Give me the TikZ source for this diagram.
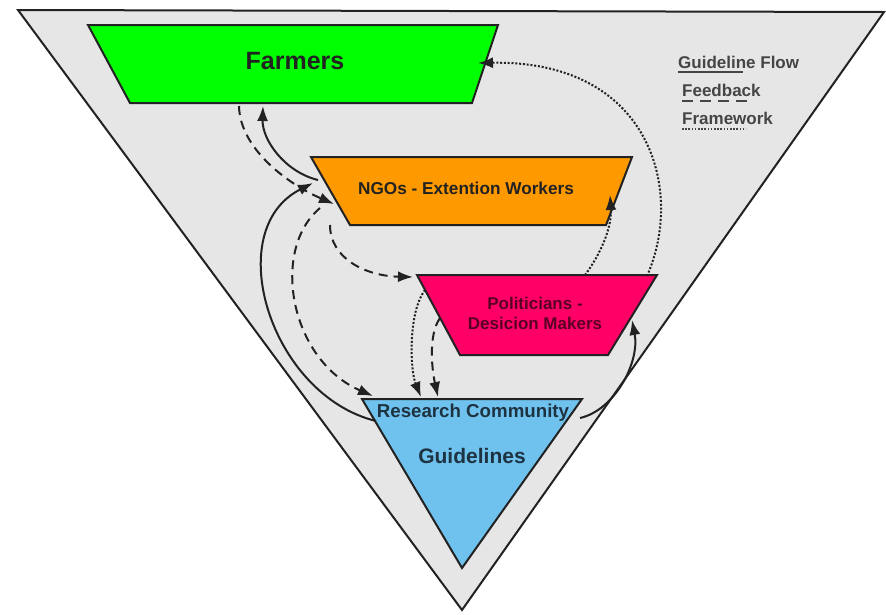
\documentclass[tikz,border=0pt]{standalone}
\usepackage{fontspec}
\setmainfont{Liberation Sans}
\usetikzlibrary{arrows.meta}
\definecolor{bggray}{HTML}{E6E6E6}
\definecolor{edge}{HTML}{222222}
\definecolor{farmgreen}{HTML}{00FF00}
\definecolor{ngoorange}{HTML}{FF9900}
\definecolor{polpink}{HTML}{FF0066}
\definecolor{resblue}{HTML}{70C2EE}
\definecolor{txtdark}{HTML}{222222}
\definecolor{poltxt}{HTML}{5A0025}
\definecolor{restxt}{HTML}{1E3342}
\definecolor{legtxt}{HTML}{454545}
\tikzset{
  shapebox/.style={draw=edge, line width=2pt, line join=miter},
  lbl/.style={font=\bfseries, text=txtdark, align=center, inner sep=0pt},
  conn/.style={line width=2pt, draw=edge, -{Latex[length=15pt,width=11pt]}},
  flow/.style={conn},
  feedback/.style={conn, dash pattern=on 9pt off 6pt},
  frame/.style={conn, dash pattern=on 2pt off 1.8pt},
  legend/.style={font=\bfseries\fontsize{17}{19}\selectfont, text=legtxt, anchor=west, inner sep=0pt}
}
\begin{document}
\begin{tikzpicture}[x=1pt,y=-1pt]
\useasboundingbox (0,0) rectangle (886,614);
% big triangle
\filldraw[fill=bggray, draw=edge, line width=2pt, line join=miter] (18,10) -- (884,12) -- (462,610) -- cycle;
% trapezoids
\filldraw[shapebox, fill=farmgreen] (88,25) -- (498,25) -- (472,103) -- (130,103) -- cycle;
\filldraw[shapebox, fill=ngoorange] (311,157) -- (632,157) -- (606,225) -- (350,225) -- cycle;
\filldraw[shapebox, fill=polpink] (417,275) -- (657,275) -- (608,355) -- (460,355) -- cycle;
\filldraw[shapebox, fill=resblue] (362,399) -- (582,399) -- (462,568) -- cycle;
% labels
\node[lbl, font=\bfseries\fontsize{25}{27}\selectfont] (farmers) at (295,61) {Farmers};
\node[lbl, font=\bfseries\fontsize{17.2}{19}\selectfont] (ngo) at (466,188) {NGOs - Extention Workers};
\node[lbl, text=poltxt, font=\bfseries\fontsize{17}{20}\selectfont] (pol) at (535,313) {Politicians -\\Desicion Makers};
\node[lbl, text=restxt, font=\bfseries\fontsize{18.7}{20}\selectfont] (res) at (473,413) {Research Community};
\node[lbl, text=restxt, font=\bfseries\fontsize{21}{23}\selectfont] (guide) at (472,456) {Guidelines};
% connector end points
\coordinate (fA) at (263,106);
\coordinate (fB) at (239,106);
\coordinate (fC) at (478,63);
\coordinate (nA) at (318,180);
\coordinate (nB) at (334,204);
\coordinate (nC) at (330,225);
\coordinate (nD) at (320,208);
\coordinate (nE) at (313,183);
\coordinate (nF) at (610,195);
\coordinate (pA) at (413,277);
\coordinate (pB) at (425,290);
\coordinate (pC) at (440,318);
\coordinate (pD) at (632,320);
\coordinate (pE) at (585,275);
\coordinate (pF) at (647,276);
\coordinate (rA) at (373,396);
\coordinate (rB) at (376,421);
\coordinate (rC) at (421,397);
\coordinate (rD) at (438,397);
\coordinate (rE) at (580,418);
% connectors
\draw[flow] (nA) .. controls (285,172) and (262,140) .. (fA);
\draw[feedback] (fB) .. controls (240,150) and (290,185) .. (nB);
\draw[feedback] (nC) .. controls (330,258) and (365,276) .. (pA);
\draw[feedback] (nD) .. controls (270,250) and (290,360) .. (rA);
\draw[flow] (rB) .. controls (270,395) and (220,230) .. (nE);
\draw[frame] (pB) .. controls (408,312) and (410,370) .. (rC);
\draw[feedback] (pC) .. controls (428,335) and (432,370) .. (rD);
\draw[flow] (rE) .. controls (615,410) and (640,362) .. (pD);
\draw[frame] (pE) .. controls (600,255) and (612,228) .. (nF);
\draw[frame] (pF) .. controls (685,190) and (650,60) .. (fC);
% legend
\node[legend] (lg1) at (678,62) {Guideline Flow};
\node[legend] (lg2) at (682,90) {Feedback};
\node[legend] (lg3) at (682,118) {Framework};
\draw[line width=2.4pt, draw=legtxt] (678,72) -- (743,72);
\draw[line width=2.4pt, draw=legtxt, dash pattern=on 11pt off 7pt] (682,101) -- (747,101);
\draw[line width=2.4pt, draw=legtxt, dash pattern=on 1.6pt off 1.6pt] (682,129) -- (746,129);
\end{tikzpicture}
\end{document}
